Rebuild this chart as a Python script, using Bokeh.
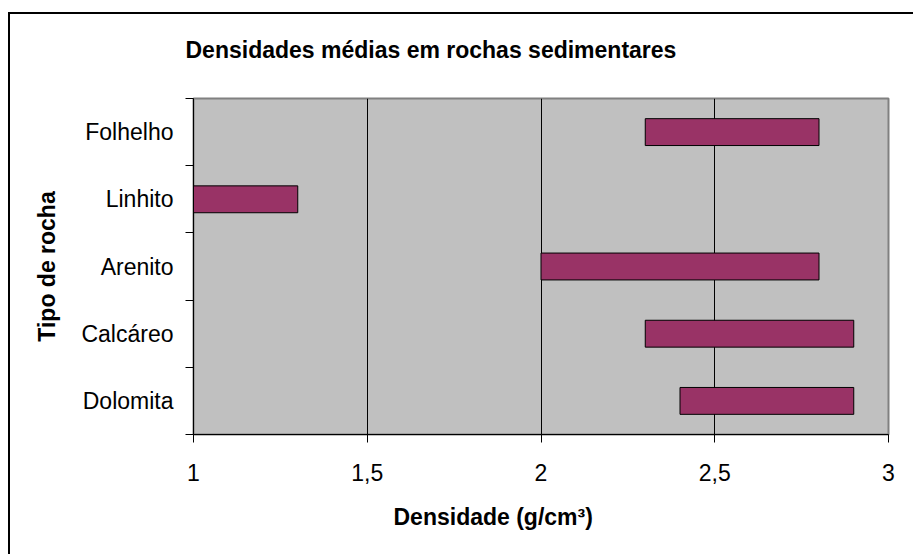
from bokeh.plotting import figure
from bokeh.models import FixedTicker, CustomJSTickFormatter, Title, Range1d, Spacer
from bokeh.layouts import column, row
from bokeh.embed import file_html
from bokeh.resources import INLINE

# ---- data ----
categories = ["Folhelho", "Linhito", "Arenito", "Calcáreo", "Dolomita"]
density_min = [2.3, 1.0, 2.0, 2.3, 2.4]
density_max = [2.8, 1.3, 2.8, 2.9, 2.9]
x_ticks = [1, 1.5, 2, 2.5, 3]

title_text = "Densidades médias em rochas sedimentares"
x_title = "Densidade (g/cm³)"
y_title = "Tipo de rocha"

FONT = "Liberation Sans"
n = len(categories)
ypos = [n - 1 - i + 0.5 for i in range(n)]

p = figure(width=903, height=540, output_backend="svg", toolbar_location=None,
           x_range=Range1d(1, 3), y_range=Range1d(0, n),
           min_border_left=183, min_border_right=25, min_border_top=84, min_border_bottom=120)

p.background_fill_color = "#C0C0C0"
p.border_fill_color = "white"
p.outline_line_color = "#808080"
p.outline_line_width = 2

p.hbar(y=ypos, left=density_min, right=density_max, height=0.4,
       fill_color="#993366", line_color="black", line_width=1)

# x axis
p.xaxis.ticker = FixedTicker(ticks=x_ticks)
p.xaxis.formatter = CustomJSTickFormatter(code="return tick.toString().replace('.', ',');")
p.xaxis.major_tick_out = 8
p.xaxis.major_tick_in = 0
p.xaxis.minor_tick_line_color = None
p.xaxis.axis_line_color = "black"
p.xaxis.major_tick_line_color = "black"
p.xaxis.major_label_text_font = FONT
p.xaxis.major_label_text_font_size = "23px"
p.xaxis.major_label_text_color = "black"
p.xaxis.major_label_standoff = 21

# y axis: labels at centres, ticks at boundaries
p.yaxis.ticker = FixedTicker(ticks=ypos, minor_ticks=list(range(n + 1)))
p.yaxis.major_label_overrides = {yv: c for yv, c in zip(ypos, categories)}
p.yaxis.major_tick_out = 0
p.yaxis.major_tick_in = 0
p.yaxis.minor_tick_out = 8
p.yaxis.minor_tick_in = 0
p.yaxis.minor_tick_line_color = "black"
p.yaxis.axis_line_color = "black"
p.yaxis.major_label_text_font = FONT
p.yaxis.major_label_text_font_size = "23px"
p.yaxis.major_label_text_color = "black"
p.yaxis.major_label_standoff = 12
p.yaxis.axis_label = y_title
p.yaxis.axis_label_text_font = FONT
p.yaxis.axis_label_text_font_size = "23px"
p.yaxis.axis_label_text_font_style = "bold"
p.yaxis.axis_label_text_color = "black"
p.yaxis.axis_label_standoff = 18

p.xgrid.ticker = FixedTicker(ticks=x_ticks[1:-1])
p.xgrid.grid_line_color = "black"
p.xgrid.grid_line_width = 1
p.ygrid.grid_line_color = None

# spacer (innermost) then the chart title
p.add_layout(Title(text=" ", standoff=8, text_font=FONT, text_font_size="23px"), "above")
p.add_layout(Title(text=title_text, align="left", offset=-8, standoff=0,
                   text_font=FONT, text_font_size="23px", text_font_style="bold",
                   text_color="black"), "above")
p.add_layout(Title(text=x_title, align="left", offset=200, standoff=41, vertical_align="top",
                   text_font=FONT, text_font_size="23px", text_font_style="bold",
                   text_color="black"), "below")

layout = column(
    Spacer(width=913, height=12),
    row(Spacer(width=8, height=2), Spacer(width=905, height=2, styles={"background-color": "black"})),
    row(Spacer(width=8, height=540), Spacer(width=2, height=540, styles={"background-color": "black"}), p),
)

open("out.html", "w").write(file_html(layout, INLINE))
